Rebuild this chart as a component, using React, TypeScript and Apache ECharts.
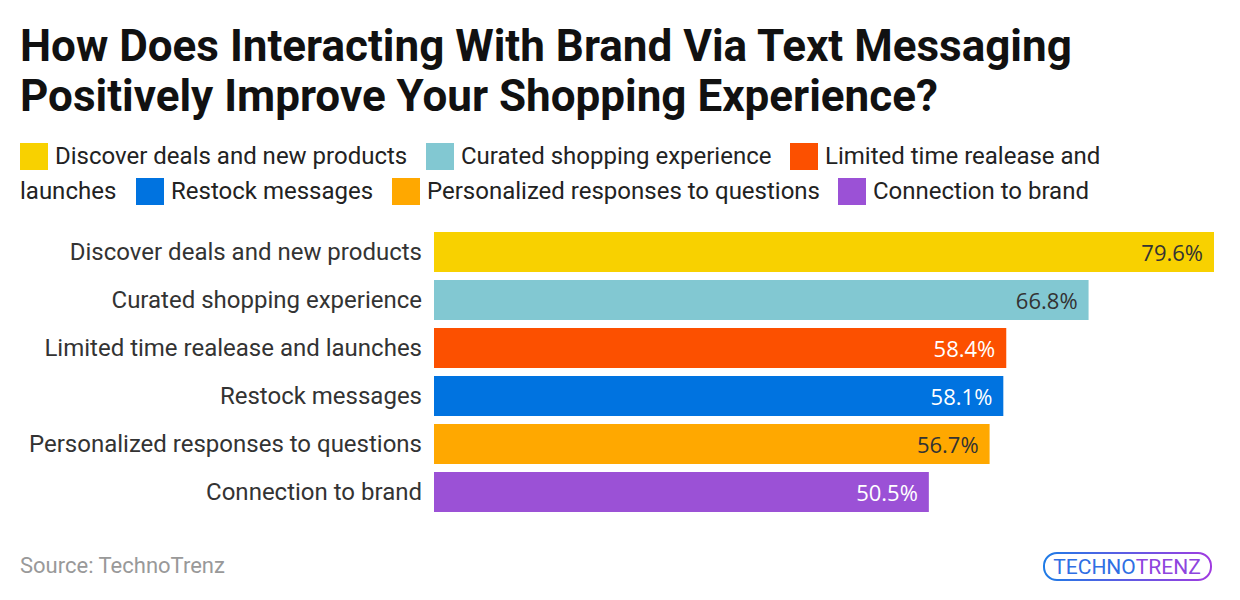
import React, { useEffect, useRef } from "react";
import * as echarts from "echarts";

const categories = [
  "Discover deals and new products",
  "Curated shopping experience",
  "Limited time realease and launches",
  "Restock messages",
  "Personalized responses to questions",
  "Connection to brand",
];
const values = [79.6, 66.8, 58.4, 58.1, 56.7, 50.5];
const colors = ["#F8D100", "#82C8D2", "#FC5000", "#0073E0", "#FFA800", "#9B51D6"];
const labelColors = ["#333333", "#333333", "#FFFFFF", "#FFFFFF", "#333333", "#FFFFFF"];

const titleLines = [
  "How Does Interacting With Brand Via Text Messaging",
  "Positively Improve Your Shopping Experience?",
];
const sourceText = "Source: TechnoTrenz";

// legend layout: [categoryIndex, squareX, row, textOverride]
const legendItems: [number, number, number, string?][] = [
  [0, 20, 0],
  [1, 426, 0],
  [2, 790, 0, "Limited time realease and"],
  [3, 136, 1],
  [4, 392, 1],
  [5, 838, 1],
];

export default function App() {
  const ref = useRef<HTMLDivElement>(null);
  useEffect(() => {
    if (!ref.current) return;
    const chart = echarts.init(ref.current, undefined, { renderer: "svg" });
    const rowY = [156, 191];
    const legendGraphics: any[] = [];
    legendItems.forEach(([i, x, row, txt]) => {
      legendGraphics.push({
        type: "rect",
        shape: { x, y: rowY[row] - 13, width: 28, height: 27 },
        style: { fill: colors[i] },
      });
      legendGraphics.push({
        type: "text",
        x: x + 35,
        y: rowY[row],
        style: {
          text: txt ?? categories[i],
          font: "24px Roboto",
          fill: "#222",
          textVerticalAlign: "middle",
        },
      });
    });
    legendGraphics.push({
      type: "text",
      x: 20,
      y: rowY[1],
      style: { text: "launches", font: "24px Roboto", fill: "#222", textVerticalAlign: "middle" },
    });

    const grad = new echarts.graphic.LinearGradient(0, 0, 1, 0, [
      { offset: 0, color: "#1E7BE6" },
      { offset: 1, color: "#A03BE0" },
    ]);

    chart.setOption({
      animation: false,
      backgroundColor: "#ffffff",
      grid: { left: 434, right: 26, top: 228, bottom: 84 },
      xAxis: {
        type: "value",
        min: 0,
        max: "dataMax",
        show: false,
      },
      yAxis: {
        type: "category",
        inverse: true,
        data: categories,
        axisLine: { show: false },
        axisTick: { show: false },
        axisLabel: {
          color: "#333",
          fontFamily: "Roboto",
          fontSize: 24,
          margin: 12,
        },
      },
      series: [
        {
          type: "bar",
          barCategoryGap: "16.7%",
          data: values.map((v, i) => ({
            value: v,
            itemStyle: { color: colors[i] },
            label: { color: labelColors[i] },
          })),
          label: {
            show: true,
            position: "insideRight",
            distance: 11,
            fontFamily: "Open Sans",
            fontSize: 22,
            formatter: (p: any) => p.value.toFixed(1) + "%",
          },
        },
      ],
      graphic: [
        {
          type: "text",
          x: 20,
          y: 46,
          style: {
            text: titleLines[0],
            font: "bold 44px Roboto",
            fill: "#111",
            textVerticalAlign: "middle",
          },
        },
        {
          type: "text",
          x: 20,
          y: 96,
          style: {
            text: titleLines[1],
            font: "bold 44px Roboto",
            fill: "#111",
            textVerticalAlign: "middle",
          },
        },
        ...legendGraphics,
        {
          type: "text",
          x: 20,
          y: 565,
          style: {
            text: sourceText,
            font: "22px Roboto",
            fill: "#999",
            textVerticalAlign: "middle",
          },
        },
        {
          type: "rect",
          shape: { x: 1044, y: 553, width: 167, height: 27, r: 13 },
          style: { fill: "none", stroke: grad, lineWidth: 2 },
        },
        {
          type: "text",
          x: 1127,
          y: 567,
          style: {
            text: "{a|TECHNO}{b|TRENZ}",
            rich: {
              a: { fill: "#2F6FE4", font: "21px Roboto" },
              b: { fill: "#8E45DE", font: "21px Roboto" },
            },
            textAlign: "center",
            textVerticalAlign: "middle",
          },
        },
      ],
    });
    return () => chart.dispose();
  }, []);
  return <div ref={ref} style={{ width: 1240, height: 600, position: "absolute", left: 0, top: 0 }} />;
}
